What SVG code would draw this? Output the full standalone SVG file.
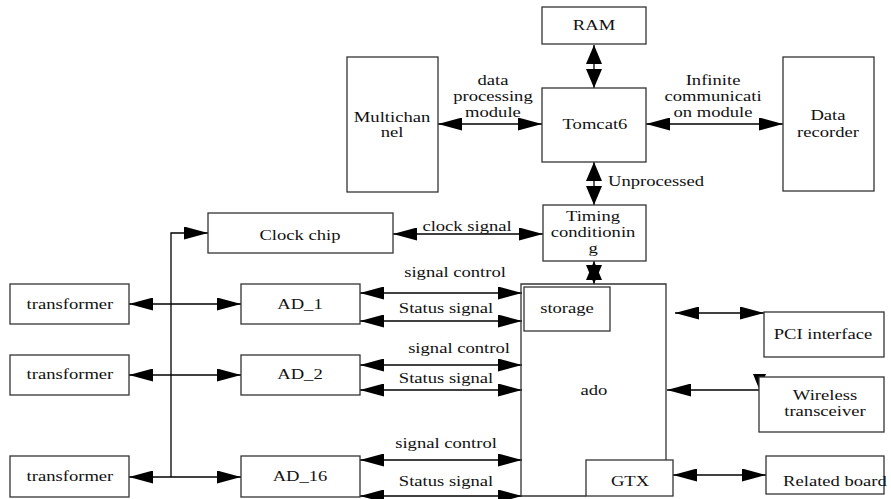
<svg xmlns="http://www.w3.org/2000/svg" width="891" height="499" viewBox="0 0 891 499">
  <style>
    rect, .box { fill: #ffffff; stroke: #333333; stroke-width: 1.3; }
    .box { fill: none; }
    .wire { fill: none; stroke: #000000; stroke-width: 1.3; }
    .both { marker-start: url(#ah); marker-end: url(#ah); }
    .vboth { marker-start: url(#av); marker-end: url(#av); }
    .head { fill: #000000; }
    /* text is drawn slightly widened: x positions are given in the scaled space (x / 1.2) */
    text { font-family: "Liberation Serif", "Times New Roman", serif; font-size: 15.5px; fill: #111111; text-anchor: middle; transform: scale(1.2, 1); }
    .start { text-anchor: start; }
  </style>
  <defs>
    <marker id="ah" viewBox="0 0 24 13" markerUnits="userSpaceOnUse" markerWidth="24" markerHeight="13" refX="24" refY="6.5" orient="auto-start-reverse">
      <path d="M0,0 L24,6.5 L0,13 z" fill="#000000"/>
    </marker>
    <marker id="av" viewBox="0 0 19 16" markerUnits="userSpaceOnUse" markerWidth="19" markerHeight="16" refX="19" refY="8" orient="auto-start-reverse">
      <path d="M0,0 L19,8 L0,16 z" fill="#000000"/>
    </marker>
  </defs>

  <!-- connectors -->
  <g id="connectors">
    <!-- RAM <-> Tomcat6 -->
    <line class="wire vboth" x1="594" y1="45" x2="594" y2="88"/>
    <!-- Multichannel <-> Tomcat6 -->
    <line class="wire both" x1="438" y1="124" x2="542" y2="124"/>
    <!-- Tomcat6 <-> Data recorder -->
    <line class="wire both" x1="646" y1="124" x2="783" y2="124"/>
    <!-- Tomcat6 <-> Timing conditioning -->
    <line class="wire vboth" x1="594" y1="162" x2="594" y2="205"/>
    <!-- Timing conditioning <-> ado -->
    <line class="wire vboth" x1="594" y1="261" x2="594" y2="284"/>
    <!-- Clock chip <-> Timing conditioning -->
    <line class="wire both" x1="393" y1="234" x2="543" y2="234"/>
    <!-- clock bus -->
    <path class="wire" d="M171,477 V233 H208" marker-end="url(#ah)"/>
    <line class="wire both" x1="129" y1="304" x2="241" y2="304"/>
    <line class="wire both" x1="129" y1="375" x2="241" y2="375"/>
    <line class="wire both" x1="129" y1="477" x2="241" y2="477"/>
    <!-- AD channels <-> ado -->
    <line class="wire both" x1="360" y1="293" x2="522" y2="293"/>
    <line class="wire both" x1="360" y1="321" x2="522" y2="321"/>
    <line class="wire both" x1="360" y1="365" x2="522" y2="365"/>
    <line class="wire both" x1="360" y1="390" x2="522" y2="390"/>
    <line class="wire both" x1="360" y1="460" x2="522" y2="460"/>
    <line class="wire both" x1="360" y1="496" x2="522" y2="496"/>
    <!-- PCI interface -->
    <line class="wire both" x1="675" y1="313" x2="764" y2="313"/>
    <!-- Wireless transceiver -> ado -->
    <line class="wire" x1="759" y1="390" x2="667" y2="390" marker-end="url(#ah)"/>
    <polygon class="head" points="753,374 766,374 759.5,390"/>
    <!-- GTX <-> Related board -->
    <line class="wire both" x1="673" y1="475" x2="766" y2="475"/>
  </g>

  <!-- connector labels -->
  <g id="labels">
    <text x="410.8" y="85">data<tspan x="410.8" dy="16.5">processing</tspan><tspan x="410.8" dy="16">module</tspan></text>
    <text x="594.2" y="85">Infinite<tspan x="594.2" dy="16">communicati</tspan><tspan x="594.2" dy="16">on module</tspan></text>
    <text class="start" x="506.7" y="186">Unprocessed</text>
    <text x="389.2" y="231">clock signal</text>
    <text x="379.2" y="277">signal control</text>
    <text x="371.7" y="313">Status signal</text>
    <text x="382.5" y="353">signal control</text>
    <text x="371.7" y="383">Status signal</text>
    <text x="371.7" y="448">signal control</text>
    <text x="371.7" y="486">Status signal</text>
  </g>

  <g id="ram">
    <rect x="542" y="7" width="104" height="37"/>
    <text x="495" y="30">RAM</text>
  </g>
  <g id="tomcat6">
    <rect x="542" y="88" width="104" height="74"/>
    <text x="495.8" y="129">Tomcat6</text>
  </g>
  <g id="multichannel">
    <rect x="347" y="57" width="91" height="135"/>
    <text x="326.7" y="122">Multichan<tspan x="326.7" dy="15.5">nel</tspan></text>
  </g>
  <g id="data-recorder">
    <rect x="783" y="57" width="91" height="134"/>
    <text x="690" y="120">Data<tspan x="690" dy="17">recorder</tspan></text>
  </g>
  <g id="timing">
    <rect x="543" y="205" width="103" height="56"/>
    <text x="494.2" y="221">Timing<tspan x="494.2" dy="16">conditionin</tspan><tspan x="494.2" dy="16">g</tspan></text>
  </g>
  <g id="clock-chip">
    <rect x="208" y="213" width="185" height="40"/>
    <text x="250" y="240">Clock chip</text>
  </g>
  <g id="transformer-1">
    <rect x="10" y="284" width="119" height="40"/>
    <text x="58.3" y="309">transformer</text>
  </g>
  <g id="transformer-2">
    <rect x="10" y="355" width="119" height="40"/>
    <text x="58.3" y="379">transformer</text>
  </g>
  <g id="transformer-16">
    <rect x="10" y="456" width="119" height="41"/>
    <text x="58.3" y="481">transformer</text>
  </g>
  <g id="ad-1">
    <rect x="241" y="284" width="119" height="40"/>
    <text x="250" y="309">AD_1</text>
  </g>
  <g id="ad-2">
    <rect x="241" y="355" width="119" height="40"/>
    <text x="250" y="379">AD_2</text>
  </g>
  <g id="ad-16">
    <rect x="241" y="456" width="119" height="41"/>
    <text x="250" y="481">AD_16</text>
  </g>
  <g id="ado">
    <path class="box" d="M586,496 H521 V284 H666 V460"/>
    <text x="495" y="395">ado</text>
  </g>
  <g id="storage">
    <rect x="524" y="287" width="86" height="44"/>
    <text x="472.5" y="313">storage</text>
  </g>
  <g id="gtx">
    <rect x="586" y="460" width="87" height="36"/>
    <text x="525" y="486">GTX</text>
  </g>
  <g id="pci">
    <rect x="764" y="312" width="120" height="45"/>
    <text x="685.8" y="339">PCI interface</text>
  </g>
  <g id="wireless">
    <rect x="759" y="377" width="125" height="55"/>
    <text x="687.5" y="400">Wireless<tspan x="687.5" dy="16">transceiver</tspan></text>
  </g>
  <g id="related-board">
    <rect x="766" y="456" width="118" height="38"/>
    <text x="695.8" y="486">Related board</text>
  </g>
</svg>
